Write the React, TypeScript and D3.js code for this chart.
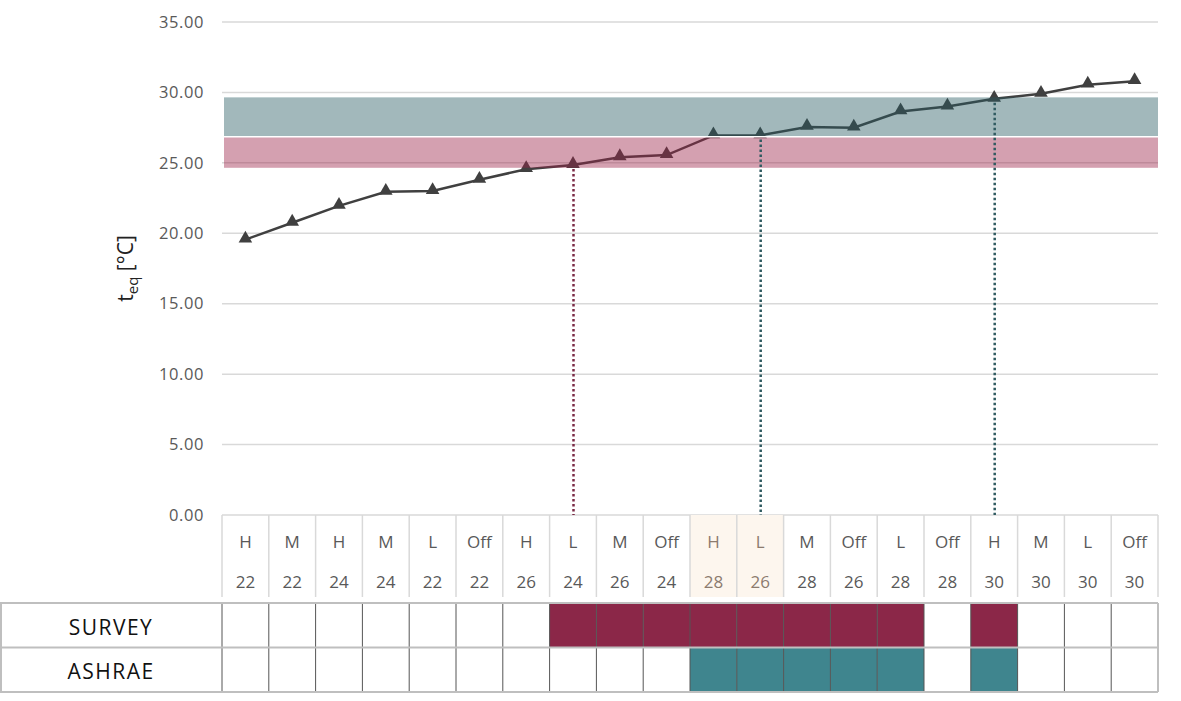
import React from 'react';
import * as d3 from 'd3';

// fan mode + setpoint for every case
const modes = ['H', 'M', 'H', 'M', 'L', 'Off', 'H', 'L', 'M', 'Off', 'H', 'L', 'M', 'Off', 'L', 'Off', 'H', 'M', 'L', 'Off'];
const setpoints = [22, 22, 24, 24, 22, 22, 26, 24, 26, 24, 28, 26, 28, 26, 28, 28, 30, 30, 30, 30];
const teq = [19.55, 20.75, 21.95, 22.95, 23.0, 23.8, 24.55, 24.85, 25.4, 25.55, 26.95, 26.95, 27.55, 27.5, 28.65, 29.0, 29.55, 29.9, 30.55, 30.8];
const survey = [0, 0, 0, 0, 0, 0, 0, 1, 1, 1, 1, 1, 1, 1, 1, 0, 1, 0, 0, 0];
const ashrae = [0, 0, 0, 0, 0, 0, 0, 0, 0, 0, 1, 1, 1, 1, 1, 0, 1, 0, 0, 0];
const yTicks = [0, 5, 10, 15, 20, 25, 30, 35];
const surveyBand = [24.65, 26.85];
const ashraeBand = [26.85, 29.65];
const dropIdx = [7, 11, 16];
const dropKind = ['survey', 'ashrae', 'ashrae'];
const highlightIdx = [10, 11];

const W = 1181;
const H = 701;
const left = 222;
const right = 1158;
const top = 22;
const bottom = 515;

const font = '"Open Sans", Lato, sans-serif';
const maroon = '#8b2748';
const teal = '#3f858e';

export default function App() {
  const idx = d3.range(modes.length);
  const x = d3.scaleBand<number>().domain(idx).range([left, right]);
  const y = d3.scaleLinear().domain([0, 35]).range([bottom, top]);
  const cx = (i: number) => (x(i) as number) + x.bandwidth() / 2;

  const line = d3.line<number>()
    .x((d, i) => cx(i))
    .y(d => y(d));
  const tri = d3.symbol(d3.symbolTriangle, 80)();

  const rowTop = 603;
  const rowH = 44.5;

  return (
    <svg width={W} height={H} style={{ position: 'absolute', left: 0, top: 0, background: '#fff' }} fontFamily={font}>
      {/* grid + y labels */}
      {yTicks.map(t => (
        <g key={t}>
          <line x1={left} x2={right} y1={y(t)} y2={y(t)} stroke="#d9d9d9" strokeWidth={1.5} />
          <text x={204} y={y(t)} dy="0.35em" textAnchor="end" fontSize={16.5} letterSpacing={0.6} fill="#595959">{t.toFixed(2)}</text>
        </g>
      ))}
      <text transform={`translate(133, ${y(17.5)}) rotate(-90)`} textAnchor="middle" fontSize={21} fill="#222">
        t<tspan fontSize={15} dy={5}>eq</tspan><tspan dy={-5}> [°C]</tspan>
      </text>

      {/* category area */}
      {highlightIdx.map(i => (
        <rect key={i} x={x(i)} y={bottom} width={x.bandwidth()} height={82} fill="#fdf6ee" />
      ))}
      {idx.concat([idx.length]).map(i => {
        const xx = i < idx.length ? (x(i) as number) : right;
        return <line key={i} x1={xx} x2={xx} y1={bottom} y2={597} stroke="#d9d9d9" strokeWidth={1.5} />;
      })}
      {idx.map(i => {
        const hl = highlightIdx.includes(i);
        return (
          <g key={i} fontSize={17} fill={hl ? '#8c7b6e' : '#595959'} textAnchor="middle">
            <text x={cx(i)} y={548}>{modes[i]}</text>
            <text x={cx(i)} y={588}>{setpoints[i]}</text>
          </g>
        );
      })}

      {/* temperature line */}
      <path d={line(teq) as string} fill="none" stroke="#404040" strokeWidth={2.5} />
      {teq.map((v, i) => (
        <path key={i} d={tri as string} transform={`translate(${cx(i)}, ${y(v) - 1})`} fill="#404040" />
      ))}

      {/* comfort bands, translucent over the line */}
      <rect x={left + 2} width={right - left - 2} y={y(ashraeBand[1])} height={y(ashraeBand[0]) - y(ashraeBand[1])}
        fill="rgb(40,90,98)" fillOpacity={0.43} />
      <rect x={left + 2} width={right - left - 2} y={y(surveyBand[1])} height={y(surveyBand[0]) - y(surveyBand[1])}
        fill="rgb(156,35,72)" fillOpacity={0.43} />
      <line x1={left + 2} x2={right} y1={y(ashraeBand[0])} y2={y(ashraeBand[0])} stroke="#fff" strokeWidth={1.5} />

      {/* drop lines */}
      {dropIdx.map((i, k) => (
        <line key={i} x1={cx(i) + 0.5} x2={cx(i) + 0.5} y1={y(teq[i]) + 4} y2={bottom}
          stroke={dropKind[k] === 'survey' ? '#7a2a45' : '#2f5a60'} strokeWidth={2.5} strokeDasharray="2.5,2.5" />
      ))}

      {/* survey / ashrae table */}
      {[survey, ashrae].map((row, r) => (
        <g key={r}>
          {row.map((v, i) => v ? (
            <rect key={i} x={x(i)} y={rowTop + r * rowH} width={x.bandwidth()} height={rowH}
              fill={r === 0 ? maroon : teal} />
          ) : null)}
          <text x={111} y={rowTop + r * rowH + rowH / 2 + 2} dy="0.36em" textAnchor="middle" fontSize={21}
            letterSpacing={1.5} fill="#111">
            {r === 0 ? 'SURVEY' : 'ASHRAE'}
          </text>
        </g>
      ))}
      {idx.map(i => (
        <line key={i} x1={x(i)} x2={x(i)} y1={rowTop} y2={rowTop + 2 * rowH} stroke="#555" strokeWidth={1} />
      ))}
      {[0, 1, 2].map(k => (
        <line key={k} x1={0} x2={right} y1={rowTop + k * rowH} y2={rowTop + k * rowH} stroke="#bfbfbf" strokeWidth={2} />
      ))}
      <line x1={1} x2={1} y1={rowTop} y2={rowTop + 2 * rowH} stroke="#bfbfbf" strokeWidth={2} />
      <line x1={right} x2={right} y1={rowTop} y2={rowTop + 2 * rowH} stroke="#bfbfbf" strokeWidth={2} />
    </svg>
  );
}
